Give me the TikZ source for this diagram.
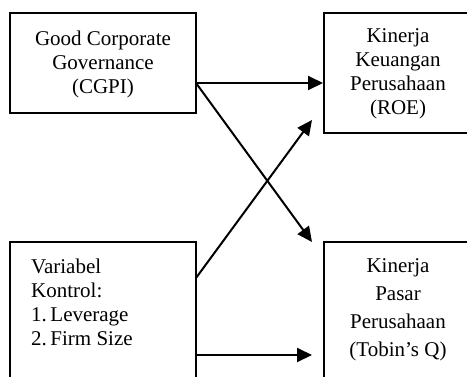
\documentclass[tikz,border=0pt]{standalone}
\usepackage{fontspec}
\setmainfont{Liberation Serif}
\usetikzlibrary{arrows.meta}
\begin{document}
\begin{tikzpicture}[x=1pt,y=-1pt,
 box/.style={draw, line width=2pt, inner sep=0pt},
 txt/.style={font=\fontsize{21}{24}\selectfont, align=center, inner sep=0pt},
 arr/.style={line width=2pt, -{Triangle[length=15pt,width=14pt]}}]
\useasboundingbox (0,0) rectangle (467,376);
\clip (0,0) rectangle (467,376);
\node[box, minimum width=186pt, minimum height=100pt] (gcg) at (103,63) {};
\node[box, minimum width=148pt, minimum height=120pt] (roe) at (398,73) {};
\node[box, minimum width=186pt, minimum height=170pt] (ktr) at (103,327) {};
\node[box, minimum width=148pt, minimum height=170pt] (tq) at (398,327) {};
\node[txt] (gcgt) at (103,64) {Good Corporate\\Governance\\(CGPI)};
\node[txt] (roet) at (398,74) {Kinerja\\Keuangan\\Perusahaan\\(ROE)};
\node[txt, anchor=north west, align=left] (ktrt) at (31,259) {Variabel\\Kontrol:\\1.\,Leverage\\2.\,Firm Size};
\node[txt, font=\fontsize{21}{28}\selectfont] (tqt) at (398,310) {Kinerja\\Pasar\\Perusahaan\\(Tobin’s Q)};
\coordinate (g1) at (196,83);
\coordinate (k1) at (196,278);
\coordinate (k2) at (196,355);
\coordinate (e2) at (312,242);
\coordinate (e3) at (312,120);
\coordinate (e4) at (312,355);
\draw[arr] (g1) -- (g1 -| roe.west);
\draw[arr] (g1) -- (e2);
\draw[arr] (k1) -- (e3);
\draw[arr] (k2) -- (e4);
\end{tikzpicture}
\end{document}
